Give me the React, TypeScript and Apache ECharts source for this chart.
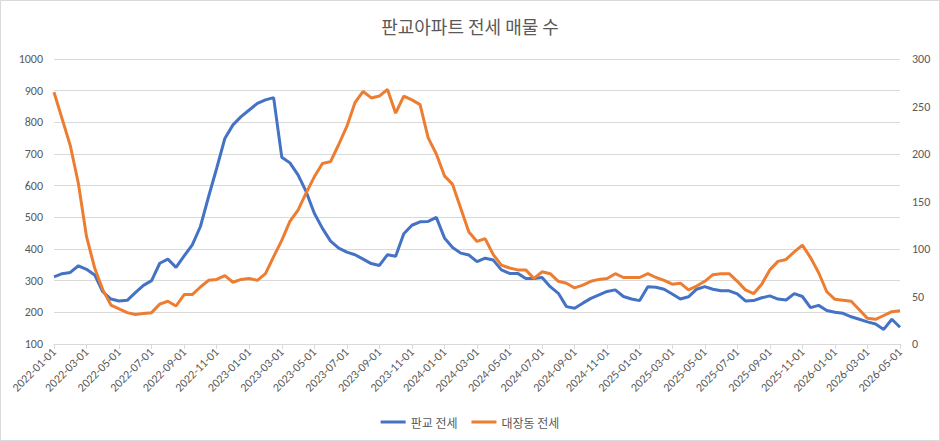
import React, { useEffect, useRef } from 'react';
import * as echarts from 'echarts';

// half-month sample points, 2022-01-01 .. 2026-05-01
const months: string[] = [];
for (let y = 2022; y <= 2026; y++) {
  for (let m = 1; m <= 12; m++) {
    if (y === 2026 && m > 5) break;
    months.push(`${y}-${String(m).padStart(2, '0')}`);
  }
}
const dates: string[] = [];
months.forEach((ym, k) => {
  dates.push(`${ym}-01`);
  if (k < months.length - 1) dates.push(`${ym}-16`);
});

// 판교 전세 (left axis)
const pangyo = [
  312, 322, 326, 347, 336, 318, 265, 242, 236, 238,
  262, 285, 300, 355, 368, 342, 378, 413, 471, 565,
  655, 749, 792, 818, 839, 860, 871, 878, 690, 672,
  634, 581, 513, 465, 425, 403, 390, 382, 368, 354,
  348, 382, 377, 448, 475, 486, 487, 500, 435, 405,
  387, 381, 360, 371, 365, 334, 323, 323, 307, 307,
  310, 281, 260, 218, 213, 229, 244, 255, 266, 271,
  250, 242, 237, 281, 279, 273, 258, 242, 249, 273,
  281, 273, 268, 268, 258, 236, 237, 246, 252, 242,
  239, 259, 250, 215, 222, 206, 200, 197, 186, 178,
  170, 163, 146, 178, 153,
];

// 대장동 전세 (right axis)
const daejang = [
  265, 237, 209, 169, 113, 80, 57, 41, 37, 33,
  31, 32, 33, 42, 45, 40, 52, 52, 60, 67,
  68, 72, 65, 68, 69, 67, 74, 92, 109, 129,
  141, 159, 176, 190, 192, 210, 229, 254, 266, 259,
  261, 268, 243, 261, 257, 252, 217, 200, 177, 168,
  143, 118, 108, 111, 94, 83, 80, 78, 78, 69,
  76, 74, 66, 64, 59, 62, 66, 68, 69, 74,
  70, 70, 70, 74, 70, 67, 63, 64, 57, 61,
  66, 73, 74, 74, 66, 57, 53, 63, 78, 87,
  89, 97, 104, 91, 75, 55, 47, 46, 45, 36,
  27, 26, 30, 34, 35,
];

const textColor = '#595959';
const gridColor = '#d9d9d9';
const font = "Calibri, Carlito, 'Liberation Sans', 'Noto Sans CJK KR', sans-serif";
const krFont = "'Noto Sans CJK KR', sans-serif";

const App: React.FC = () => {
  const chartRef = useRef<HTMLDivElement>(null);

  useEffect(() => {
    document.body.style.margin = '0';
    if (!chartRef.current) return;
    const chart = echarts.init(chartRef.current, undefined, { renderer: 'svg' });

    const option = {
      animation: false,
      backgroundColor: '#ffffff',
      title: {
        text: '판교아파트 전세 매물 수',
        left: 'center',
        top: 12,
        textStyle: { color: textColor, fontSize: 18, fontWeight: 'normal', fontFamily: krFont },
      },
      graphic: [
        {
          type: 'rect',
          shape: { x: 0.5, y: 0.5, width: 939, height: 440 },
          style: { fill: 'none', stroke: gridColor, lineWidth: 1 },
          silent: true,
        },
      ],
      legend: {
        bottom: 8,
        left: 'center',
        icon: 'rect',
        itemWidth: 25,
        itemHeight: 3,
        itemGap: 14,
        textStyle: { color: textColor, fontSize: 12, fontFamily: krFont },
        data: ['판교 전세', '대장동 전세'],
      },
      grid: { left: 54, right: 40, top: 59, bottom: 97 },
      xAxis: {
        type: 'category',
        data: dates,
        boundaryGap: false,
        axisLine: { lineStyle: { color: gridColor } },
        axisTick: { interval: 3, length: 5, lineStyle: { color: gridColor } },
        axisLabel: {
          interval: 3,
          rotate: 45,
          margin: 6,
          color: textColor,
          fontSize: 12,
          fontFamily: font,
        },
        splitLine: { show: false },
      },
      yAxis: [
        {
          type: 'value',
          min: 100,
          max: 1000,
          interval: 100,
          axisLine: { show: false },
          axisTick: { show: false },
          axisLabel: {
            color: textColor,
            fontSize: 12,
            margin: 11,
            fontFamily: font,
            formatter: (v: number) => String(v),
          },
          splitLine: { lineStyle: { color: gridColor, width: 1 } },
        },
        {
          type: 'value',
          min: 0,
          max: 300,
          interval: 50,
          axisLine: { show: false },
          axisTick: { show: false },
          axisLabel: { color: textColor, fontSize: 12, margin: 12, fontFamily: font },
          splitLine: { show: false },
        },
      ],
      series: [
        {
          name: '판교 전세',
          type: 'line',
          yAxisIndex: 0,
          data: pangyo,
          showSymbol: false,
          color: '#4472C4',
          lineStyle: { width: 3, color: '#4472C4' },
        },
        {
          name: '대장동 전세',
          type: 'line',
          yAxisIndex: 1,
          data: daejang,
          showSymbol: false,
          color: '#ED7D31',
          lineStyle: { width: 3, color: '#ED7D31' },
        },
      ],
    };

    chart.setOption(option);
    return () => {
      chart.dispose();
    };
  }, []);

  return <div ref={chartRef} style={{ width: '940px', height: '441px' }} />;
};

export default App;
